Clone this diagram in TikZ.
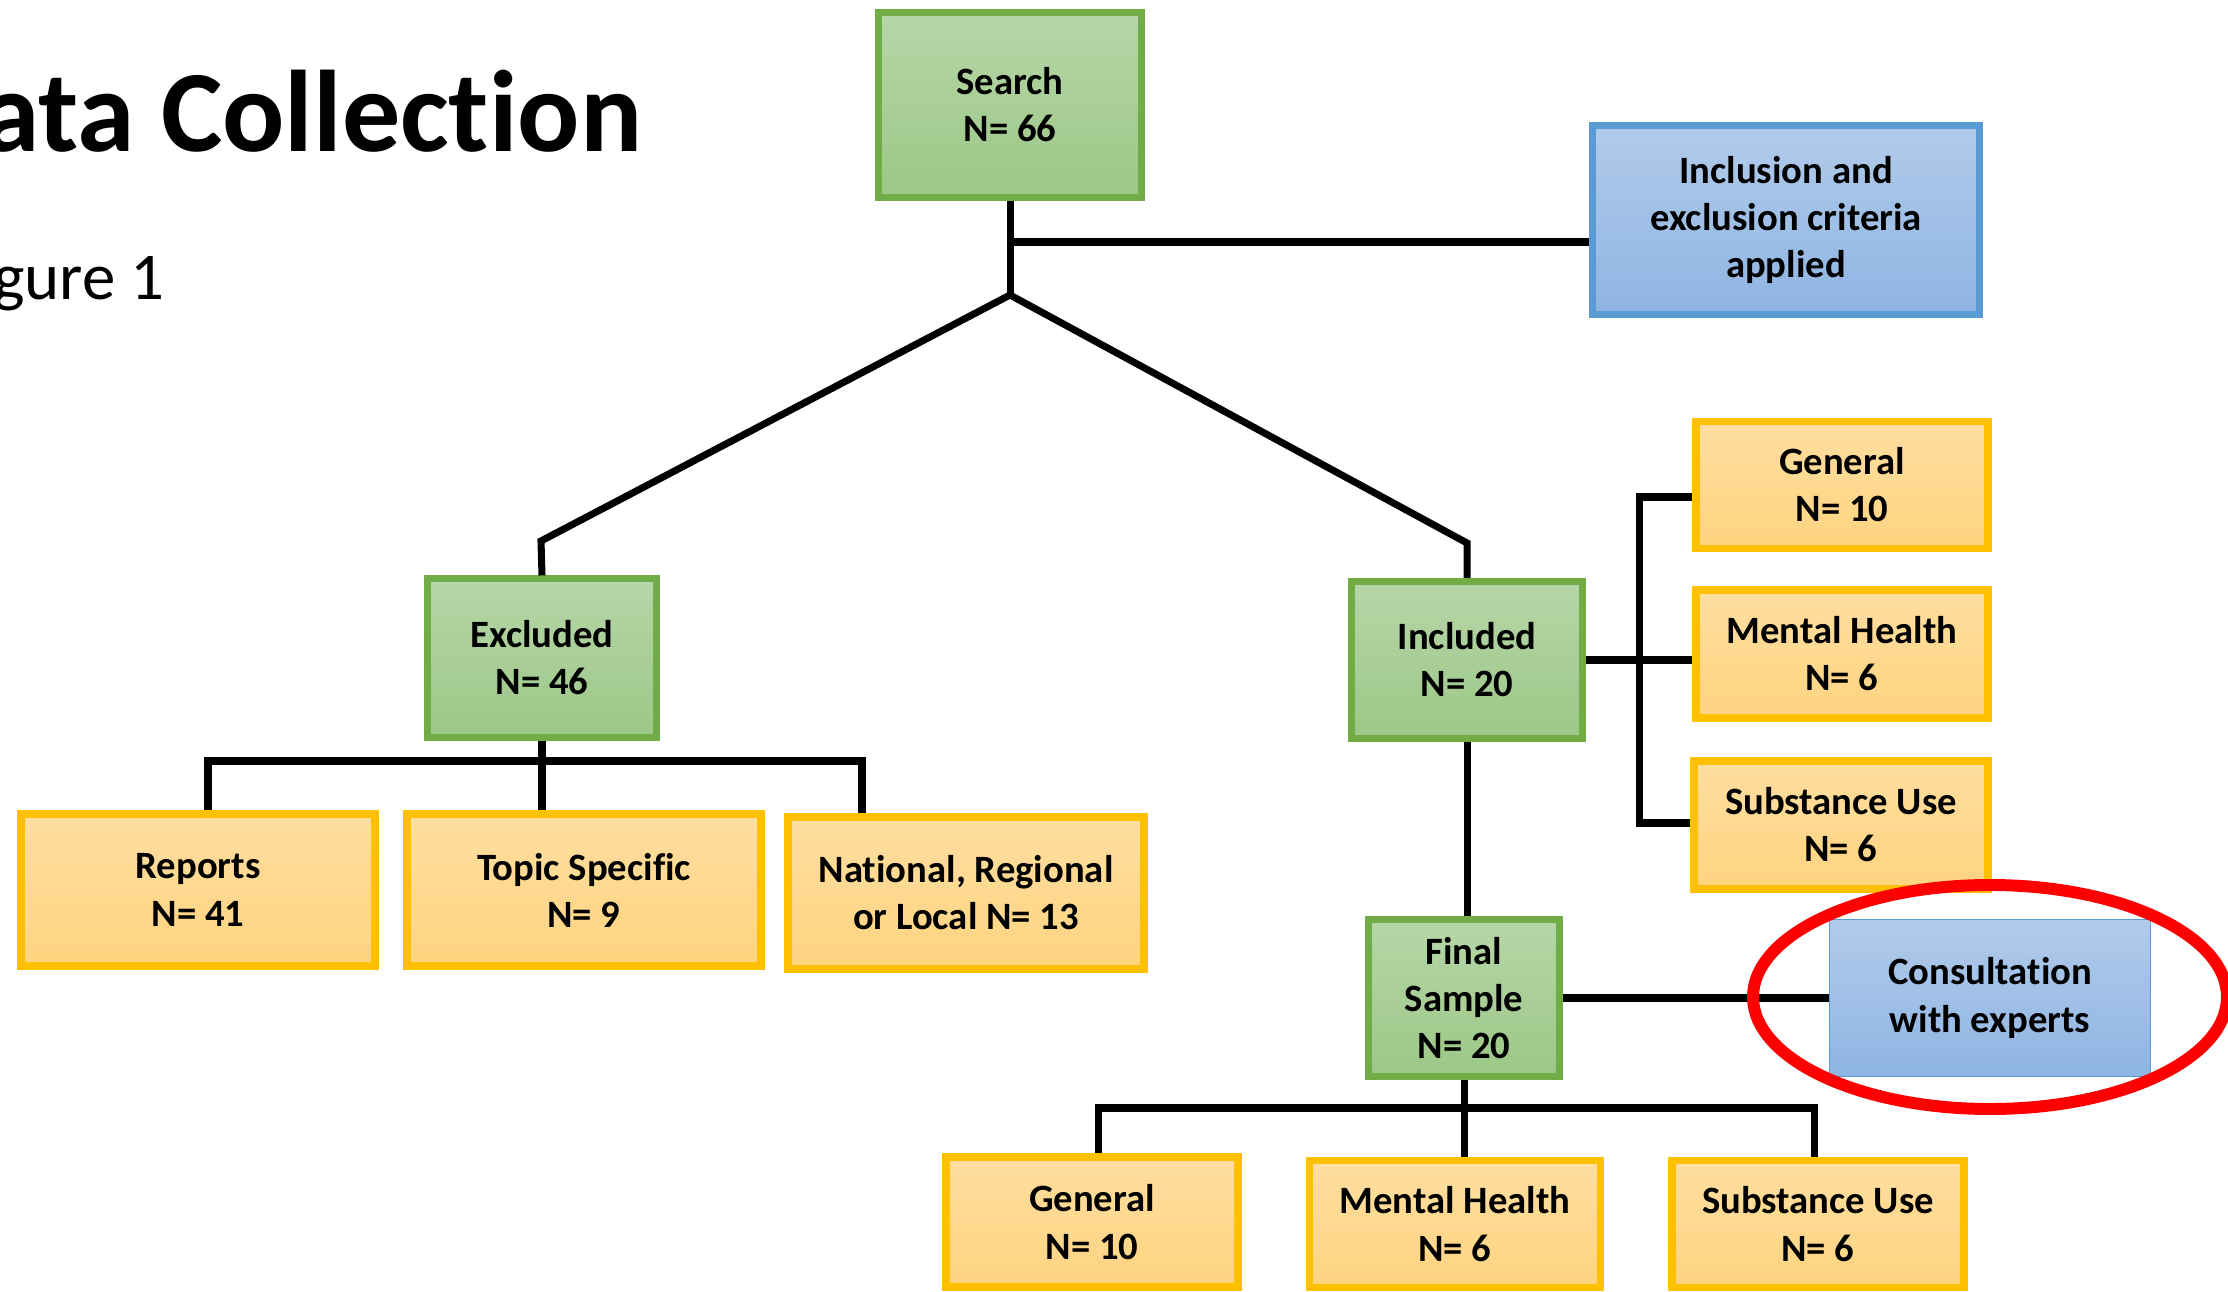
\documentclass[tikz,border=0pt]{standalone}
\usepackage{fontspec}
\setmainfont[Ligatures={NoCommon,NoContextual}]{Carlito}
\definecolor{greenline}{HTML}{70AD47}
\definecolor{greentop}{HTML}{B6D6A7}
\definecolor{greenbot}{HTML}{9CC787}
\definecolor{yellowline}{HTML}{FFC000}
\definecolor{yellowtop}{HTML}{FFDEA0}
\definecolor{yellowbot}{HTML}{FFD480}
\definecolor{blueline}{HTML}{5B9BD5}
\definecolor{bluetop}{HTML}{B1CBEA}
\definecolor{bluebot}{HTML}{8EB4E3}
\begin{document}
\begin{tikzpicture}[x=0.01cm, y=-0.01cm]
    % Define styles
    \tikzset{
        box/.style={
            rectangle,
            align=center,
            inner sep=0pt,
            font=\bfseries\fontsize{11}{13.4}\selectfont
        },
        stage/.style={
            box,
            draw=greenline,
            line width=2pt,
            top color=greentop,
            bottom color=greenbot
        },
        group/.style={
            box,
            draw=yellowline,
            line width=2.2pt,
            top color=yellowtop,
            bottom color=yellowbot
        },
        note/.style={
            box,
            draw=blueline,
            line width=2pt,
            top color=bluetop,
            bottom color=bluebot
        },
        link/.style={
            black,
            line width=2pt
        }
    }
    \useasboundingbox (0,0) rectangle (2228,1292);

    % Title
    \node[anchor=base east, font=\bfseries\fontsize{33}{39}\selectfont, inner sep=0pt] (title) at (643,152) {Data Collection};
    \node[anchor=base east, font=\fontsize{19}{23}\selectfont, inner sep=0pt] (caption) at (165,300) {Figure 1};

    % Main stages
    \node[stage, minimum width=2.62cm, minimum height=1.84cm] (search) at (1010,105) {Search\\N= 66};
    \node[note, minimum width=3.87cm, minimum height=1.89cm] (criteria) at (1786,220) {Inclusion and\\exclusion criteria\\applied};
    \node[stage, minimum width=2.28cm, minimum height=1.58cm] (excluded) at (542,658) {Excluded\\N= 46};
    \node[stage, minimum width=2.30cm, minimum height=1.57cm] (included) at (1467,660) {Included\\N= 20};
    \node[stage, minimum width=1.91cm, minimum height=1.57cm] (final) at (1464,998) {Final\\Sample\\N= 20};
    \node[note, line width=0.4pt, minimum width=3.21cm, minimum height=1.57cm] (consult) at (1990,998) {Consultation\\with experts};

    % Excluded groups
    \node[group, minimum width=3.54cm, minimum height=1.52cm] (reports) at (198,890) {Reports\\N= 41};
    \node[group, minimum width=3.54cm, minimum height=1.52cm] (topic) at (584,890) {Topic Specific\\N= 9};
    \node[group, minimum width=3.56cm, minimum height=1.52cm] (regional) at (966,893) {National, Regional\\or Local N= 13};

    % Included groups
    \node[group, minimum width=2.92cm, minimum height=1.27cm] (generalR) at (1842,485) {General\\N= 10};
    \node[group, minimum width=2.92cm, minimum height=1.28cm] (mentalR) at (1842,654) {Mental Health\\N= 6};
    \node[group, minimum width=2.94cm, minimum height=1.28cm] (substanceR) at (1841,825) {Substance Use\\N= 6};

    % Final sample groups
    \node[group, minimum width=2.92cm, minimum height=1.30cm] (generalB) at (1092,1222) {General\\N= 10};
    \node[group, minimum width=2.91cm, minimum height=1.27cm] (mentalB) at (1455,1224) {Mental Health\\N= 6};
    \node[group, minimum width=2.92cm, minimum height=1.27cm] (substanceB) at (1818,1224) {Substance Use\\N= 6};

    % Junction points
    \coordinate (split) at (1010,295);
    \coordinate (critJoin) at (1010,242);
    \coordinate (leftKnee) at (541,541);
    \coordinate (rightKnee) at (1467,543);
    \coordinate (exBarL) at (208,761);
    \coordinate (exBarR) at (862,761);
    \coordinate (inTop) at (1639,497);
    \coordinate (inBot) at (1639,823);
    \coordinate (fnBarL) at (1098,1108);
    \coordinate (fnBarR) at (1814,1108);

    % Connectors
    \draw[link] (search.south) -- (split);
    \draw[link] (critJoin) -- (critJoin -| criteria.west);
    \draw[link] (split) -- (leftKnee) -- (excluded.north);
    \draw[link] (split) -- (rightKnee) -- (included.north);

    \draw[link] (excluded.south) -- (excluded.south |- exBarL);
    \draw[link] (exBarL |- reports.north) -- (exBarL) -- (exBarR) -- (exBarR |- regional.north);
    \draw[link] (excluded.south |- exBarL) -- (topic.north -| excluded.south);

    \draw[link] (included.east) -- (included.east -| mentalR.west);
    \draw[link] (generalR.west |- inTop) -- (inTop) -- (inBot) -- (substanceR.west |- inBot);
    \draw[link] (included.south) -- (final.north -| included.south);

    \draw[link] (final.east) -- (final.east -| consult.west);
    \draw[link] (final.south) -- (final.south |- fnBarL);
    \draw[link] (fnBarL |- generalB.north) -- (fnBarL) -- (fnBarR) -- (fnBarR |- substanceB.north);
    \draw[link] (final.south |- fnBarL) -- (mentalB.north -| final.south);

    % Highlight
    \draw[red, line width=3.4pt] (1990,997) ellipse [x radius=237, y radius=112];
\end{tikzpicture}
\end{document}
